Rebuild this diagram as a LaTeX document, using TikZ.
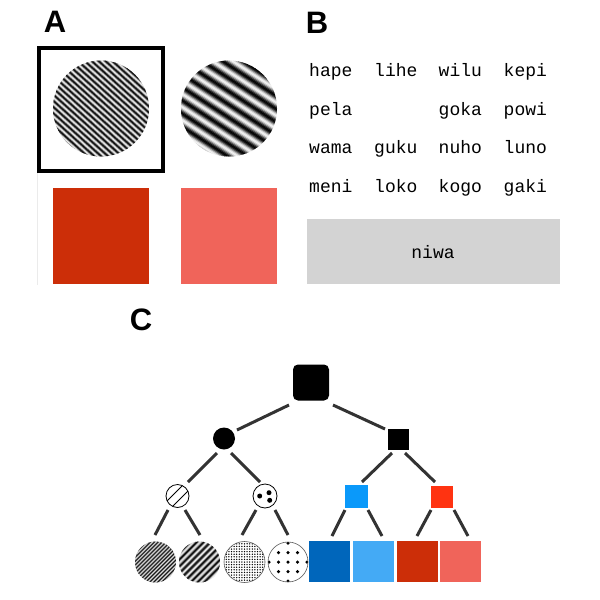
\documentclass[tikz,border=0pt]{standalone}
\usepackage{fontspec}
\setmainfont{Liberation Sans}
\setsansfont{Liberation Sans}
\setmonofont{Liberation Mono}
\usetikzlibrary{calc}
\definecolor{edgegray}{HTML}{333333}
\definecolor{boxgray}{HTML}{D3D3D3}
\definecolor{redA}{HTML}{CC2E08}
\definecolor{salmonA}{HTML}{F0645A}
\definecolor{blueN}{HTML}{0A99FA}
\definecolor{redN}{HTML}{FF3311}
\definecolor{blueD}{HTML}{0066BB}
\definecolor{blueL}{HTML}{44AAF5}
% sinusoidal grating clipped to a circle: cx cy r angle period subdivisions
\newcommand\mygrating[6]{%
\begin{scope}
\clip (#1,#2) circle (#3);
\begin{scope}[shift={(#1,#2)},rotate=#4]
\pgfmathsetmacro\gdy{#5/#6}
\pgfmathtruncatemacro\gN{2*#3/\gdy+3}
\foreach \j in {0,...,\gN}{
 \pgfmathsetmacro\gy{-#3-\gdy+\j*\gdy}
 \pgfmathsetmacro\gph{mod(\gy/#5,1)*360}
 \pgfmathsetmacro\gg{52+48*sin(\gph)}
 \fill[black!\gg!white] (-#3-2,\gy) rectangle (#3+2,\gy+\gdy+0.35);
}
\end{scope}
\end{scope}}
\newcommand\tedge[6]{\draw[edge] ([shift={(#2,#3)}]#1.center) -- ([shift={(#5,#6)}]#4.center);}
\begin{document}
\begin{tikzpicture}[x=1pt,y=1pt,
 lbl/.style={font=\sffamily\bfseries\fontsize{31}{31}\selectfont, inner sep=0},
 word/.style={font=\ttfamily\fontsize{18}{18}\selectfont, inner sep=0, anchor=base west},
 edge/.style={draw=edgegray, line width=3pt},
 blank/.style={inner sep=0, outer sep=0},
]
\fill[white] (0,0) rectangle (600,-600);
\useasboundingbox (0,0) rectangle (600,-600);

% labels
\node[lbl] (labA) at (55,-21.5) {A};
\node[lbl] (labB) at (317,-22.5) {B};
\node[lbl] (labC) at (141,-319.5) {C};

% ---------- Panel A ----------
\draw[black!8, line width=0.8pt] (37,-173) -- (37,-285);
\mygrating{101}{-108.5}{48}{-42}{4.6}{6}
\mygrating{229}{-108.5}{48}{-33}{11}{10}
\node[blank, circle, minimum size=96pt] (gA1) at (101,-108.5) {};
\node[blank, circle, minimum size=96pt] (gA2) at (229,-108.5) {};
\node[blank, draw=black, line width=4pt, minimum width=124pt, minimum height=123pt] (frame) at (101,-109.5) {};
\node[blank, fill=redA, minimum size=96pt] (sqA1) at (101,-236) {};
\node[blank, fill=salmonA, minimum size=96pt] (sqA2) at (229,-236) {};

% ---------- Panel B ----------
\node[word] (w11) at (309,-76) {hape};
\node[word] (w12) at (374,-76) {lihe};
\node[word] (w13) at (438.5,-76) {wilu};
\node[word] (w14) at (503.5,-76) {kepi};
\node[word] (w21) at (309,-115) {pela};
\node[word] (w23) at (438.5,-115) {goka};
\node[word] (w24) at (503.5,-115) {powi};
\node[word] (w31) at (309,-153.7) {wama};
\node[word] (w32) at (374,-153.7) {guku};
\node[word] (w33) at (438.5,-153.7) {nuho};
\node[word] (w34) at (503.5,-153.7) {luno};
\node[word] (w41) at (309,-192) {meni};
\node[word] (w42) at (374,-192) {loko};
\node[word] (w43) at (438.5,-192) {kogo};
\node[word] (w44) at (503.5,-192) {gaki};
\node[blank, fill=boxgray, minimum width=253pt, minimum height=65pt] (box) at (433.5,-251.5) {};
\node[word, anchor=base] (niwa) at (433,-258) {niwa};

% ---------- Panel C ----------
\node[blank, fill=black, rounded corners=5pt, minimum size=36pt] (root) at (311,-382.5) {};
\node[blank, circle, fill=black, minimum size=22pt] (n1) at (224,-438.5) {};
\node[blank, fill=black, minimum size=21pt] (n2) at (398.5,-439.5) {};

% level 3
\node[blank, circle, draw=black, fill=white, line width=0.8pt, minimum size=23pt] (n11) at (177.5,-496) {};
\begin{scope}
\clip (n11.center) circle (11.5);
\draw[line width=0.9pt] ($(n11.center)+(-11.3,-5.7)$) -- ($(n11.center)+(5.7,11.3)$);
\draw[line width=0.9pt] ($(n11.center)+(-5.7,-11.3)$) -- ($(n11.center)+(11.3,5.7)$);
\end{scope}
\node[blank, circle, draw=black, fill=white, line width=0.8pt, minimum size=24pt] (n12) at (265,-496) {};
\fill ($(n12.center)+(-5.3,0)$) circle (2.5);
\fill ($(n12.center)+(4,3.3)$) circle (2.5);
\fill ($(n12.center)+(4.7,-4.3)$) circle (2.5);
\node[blank, fill=blueN, minimum size=23pt] (n21) at (356.5,-496.5) {};
\node[blank, fill=redN, minimum size=22pt] (n22) at (442,-496.5) {};

% leaves
\mygrating{155.5}{-562}{20.5}{45}{2.8}{4}
\mygrating{199.5}{-562}{20.5}{45}{4.8}{6}
\node[blank, circle, minimum size=41pt] (l1) at (155.5,-562) {};
\node[blank, circle, minimum size=41pt] (l2) at (199.5,-562) {};
\node[blank, circle, fill=white, minimum size=41pt] (l3) at (244.5,-562) {};
\begin{scope}
\clip (l3.center) circle (20.5);
\foreach \i in {-8,...,8}{\foreach \j in {-8,...,8}{
 \fill ($(l3.center)+(\i*2.6,\j*2.6)$) circle (0.75);}}
\end{scope}
\draw[black!65, line width=0.6pt] (l3.center) circle (20.5);
\node[blank, circle, fill=white, minimum size=40pt] (l4) at (288,-562) {};
\begin{scope}
\clip (l4.center) circle (20);
\foreach \i/\j in {0/-2,-1/-1,0/-1,1/-1,-2/0,-1/0,0/0,1/0,2/0,-1/1,0/1,1/1,0/2}{
 \fill ($(l4.center)+(\i*9.5,\j*9.5)$) circle (1.75);}
\end{scope}
\draw[black!65, line width=0.6pt] (l4.center) circle (20);
\node[blank, fill=blueD, minimum size=41pt] (s1) at (329.5,-561.5) {};
\node[blank, fill=blueL, minimum size=41pt] (s2) at (373.5,-561.5) {};
\node[blank, fill=redA, minimum size=41pt] (s3) at (417,-561.5) {};
\node[blank, fill=salmonA, minimum size=41pt] (s4) at (460.5,-561.5) {};

% edges
\tedge{root}{-22}{-22.5}{n1}{13}{8.5}
\tedge{root}{22}{-22.5}{n2}{-13.5}{10.5}
\tedge{n1}{-7}{-14.5}{n11}{10.5}{14}
\tedge{n1}{7}{-14.5}{n12}{-5}{14}
\tedge{n2}{-6.5}{-13.5}{n21}{5.5}{14.5}
\tedge{n2}{6.5}{-13.5}{n22}{-7}{14.5}
\tedge{n11}{-9.5}{-14}{l1}{-0.5}{27}
\tedge{n11}{7.5}{-14}{l2}{0.5}{27}
\tedge{n12}{-9}{-14}{l3}{-2.5}{27}
\tedge{n12}{10}{-14}{l4}{0}{27}
\tedge{n21}{-11.5}{-13.5}{s1}{2.5}{25.5}
\tedge{n21}{11.5}{-13.5}{s2}{8.5}{25.5}
\tedge{n22}{-11}{-13.5}{s3}{0}{25.5}
\tedge{n22}{12}{-13.5}{s4}{7.5}{25.5}
\end{tikzpicture}
\end{document}
